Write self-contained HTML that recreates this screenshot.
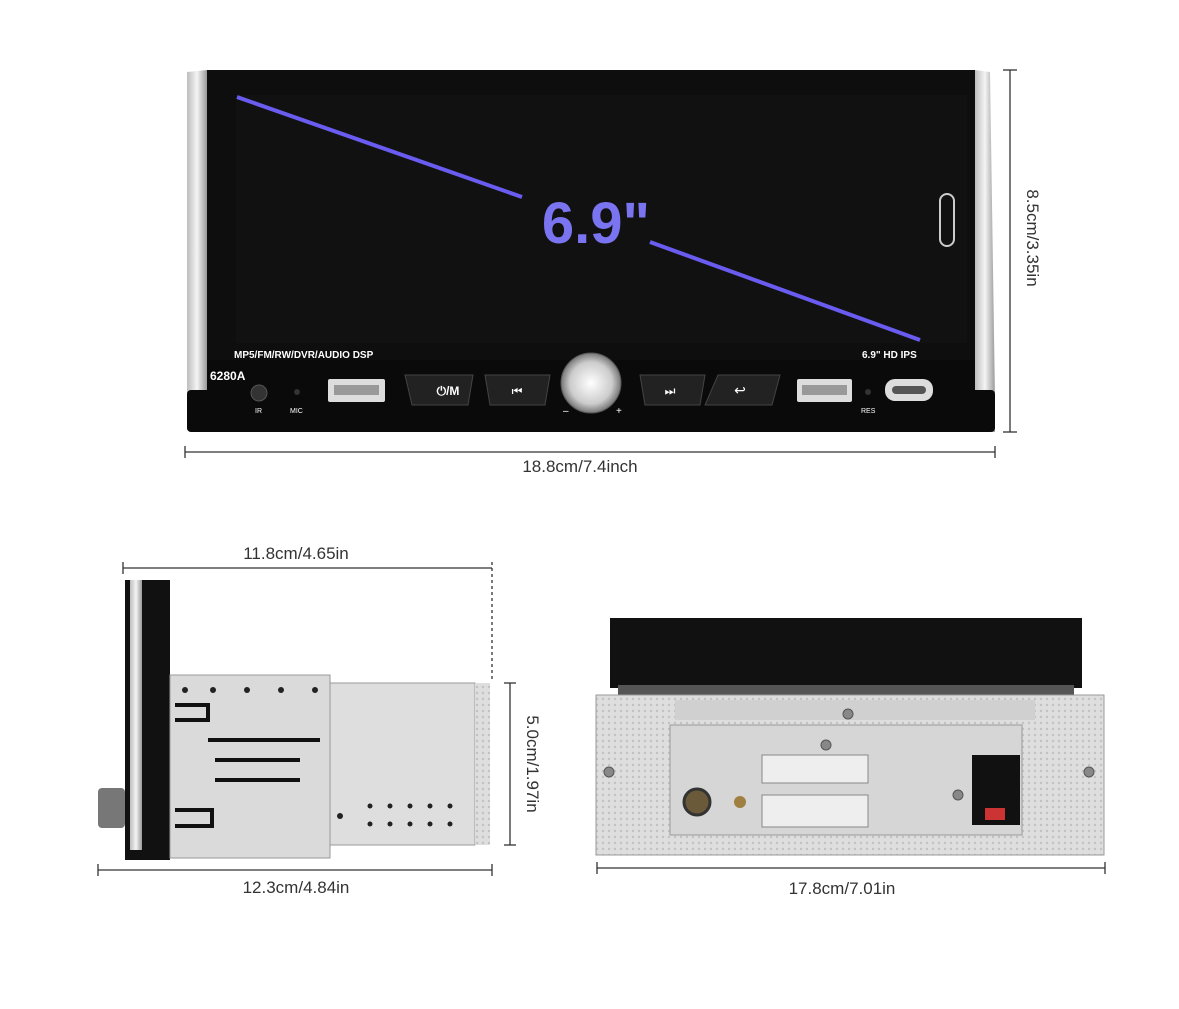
<!DOCTYPE html>
<html><head><meta charset="utf-8"><style>
html,body{margin:0;padding:0;background:#fff;}
svg{display:block;font-family:"Liberation Sans",sans-serif;}
</style></head><body>
<svg width="1179" height="1009" viewBox="0 0 1179 1009" xmlns="http://www.w3.org/2000/svg">
<defs>
<linearGradient id="sil" x1="0" y1="0" x2="1" y2="0"><stop offset="0" stop-color="#bdbdbd"/><stop offset="0.5" stop-color="#f4f4f4"/><stop offset="1" stop-color="#9a9a9a"/></linearGradient>
<radialGradient id="knob"><stop offset="0" stop-color="#fff"/><stop offset="0.7" stop-color="#ccc"/><stop offset="1" stop-color="#777"/></radialGradient>
<pattern id="dots" width="6" height="6" patternUnits="userSpaceOnUse"><rect width="6" height="6" fill="#dedede"/><circle cx="3" cy="3" r="1.2" fill="#c2c2c2"/></pattern>
</defs>
<!-- FRONT -->
<path d="M187 72 L207 70 L207 432 L187 430 Z" fill="url(#sil)"/>
<path d="M975 70 L990 72 L995 400 L995 432 L975 432 Z" fill="url(#sil)"/>
<rect x="207" y="70" width="768" height="292" fill="#0e0e0e"/>
<rect x="236" y="95" width="731" height="248" fill="#111"/>
<rect x="187" y="390" width="808" height="42" rx="4" fill="#0a0a0a"/>
<rect x="207" y="360" width="768" height="35" fill="#0a0a0a"/>
<line x1="237" y1="97" x2="522" y2="197" stroke="#6a5cf0" stroke-width="4"/>
<line x1="650" y1="242" x2="920" y2="340" stroke="#6a5cf0" stroke-width="4"/>
<text x="596" y="243" font-size="58" font-weight="bold" fill="#7a74f0" text-anchor="middle">6.9"</text>
<rect x="940" y="194" width="14" height="52" rx="7" fill="none" stroke="#ccc" stroke-width="2"/>
<text x="234" y="358" font-size="10" font-weight="bold" fill="#fff">MP5/FM/RW/DVR/AUDIO DSP</text>
<text x="862" y="358" font-size="10" font-weight="bold" fill="#fff">6.9" HD IPS</text>
<text x="210" y="380" font-size="12" font-weight="bold" fill="#fff">6280A</text>
<circle cx="259" cy="393" r="8" fill="#333" stroke="#555"/>
<text x="255" y="413" font-size="7" fill="#fff">IR</text>
<circle cx="297" cy="392" r="3" fill="#333"/>
<text x="290" y="413" font-size="7" fill="#fff">MIC</text>
<rect x="328" y="379" width="57" height="23" rx="2" fill="#ddd"/><rect x="334" y="385" width="45" height="10" fill="#999"/>
<path d="M405 375 H473 L468 405 H412 Z" fill="#222" stroke="#444"/><text x="448" y="395" font-size="12" fill="#fff" text-anchor="middle" font-weight="bold">⏻/M</text>
<path d="M485 375 H550 L545 405 H490 Z" fill="#222" stroke="#444"/><text x="517" y="395" font-size="12" fill="#fff" text-anchor="middle">⏮</text>
<circle cx="591" cy="383" r="30" fill="url(#knob)" stroke="#555"/>
<text x="563" y="414" font-size="10" fill="#fff">–</text><text x="616" y="414" font-size="10" fill="#fff">+</text>
<path d="M640 375 H705 L700 405 H645 Z" fill="#222" stroke="#444"/><text x="670" y="395" font-size="12" fill="#fff" text-anchor="middle">⏭</text>
<path d="M718 375 H780 L772 405 H705 Z" fill="#222" stroke="#444"/><text x="740" y="395" font-size="14" fill="#fff" text-anchor="middle">↩</text>
<rect x="797" y="379" width="55" height="23" rx="2" fill="#ddd"/><rect x="802" y="385" width="45" height="10" fill="#999"/>
<circle cx="868" cy="392" r="3" fill="#333"/>
<text x="861" y="413" font-size="7" fill="#fff">RES</text>
<rect x="885" y="379" width="48" height="22" rx="10" fill="#ddd"/><rect x="892" y="386" width="34" height="8" rx="4" fill="#555"/>
<!-- dims front -->
<g stroke="#333" stroke-width="1.3">
<line x1="1010" y1="70" x2="1010" y2="432"/><line x1="1003" y1="70" x2="1017" y2="70"/><line x1="1003" y1="432" x2="1017" y2="432"/>
<line x1="185" y1="452" x2="995" y2="452"/><line x1="185" y1="446" x2="185" y2="458"/><line x1="995" y1="446" x2="995" y2="458"/>
</g>
<text x="1027" y="238" font-size="17" fill="#333" text-anchor="middle" transform="rotate(90 1027 238)">8.5cm/3.35in</text>
<text x="580" y="472" font-size="17" fill="#333" text-anchor="middle">18.8cm/7.4inch</text>
<!-- SIDE -->
<rect x="125" y="580" width="45" height="280" fill="#111"/>
<rect x="130" y="580" width="12" height="270" fill="url(#sil)"/>
<rect x="98" y="788" width="27" height="40" rx="4" fill="#777"/>
<rect x="170" y="675" width="160" height="183" fill="#dadada" stroke="#999"/>
<rect x="330" y="683" width="145" height="162" fill="#dedede" stroke="#999"/>
<rect x="475" y="683" width="15" height="162" fill="url(#dots)"/>
<g fill="#222"><circle cx="185" cy="690" r="3"/><circle cx="213" cy="690" r="3"/><circle cx="247" cy="690" r="3"/><circle cx="281" cy="690" r="3"/><circle cx="315" cy="690" r="3"/></g>
<g fill="none" stroke="#111" stroke-width="4"><path d="M175 705 H208 V720 H175"/><path d="M175 810 H212 V826 H175"/><path d="M208 740 H320"/><path d="M215 760 H300"/><path d="M215 780 H300"/></g>
<g fill="#222"><circle cx="370" cy="806" r="2.5"/><circle cx="390" cy="806" r="2.5"/><circle cx="410" cy="806" r="2.5"/><circle cx="430" cy="806" r="2.5"/><circle cx="450" cy="806" r="2.5"/><circle cx="370" cy="824" r="2.5"/><circle cx="390" cy="824" r="2.5"/><circle cx="410" cy="824" r="2.5"/><circle cx="430" cy="824" r="2.5"/><circle cx="450" cy="824" r="2.5"/><circle cx="340" cy="816" r="3"/></g>
<g stroke="#333" stroke-width="1.3">
<line x1="123" y1="568" x2="492" y2="568"/><line x1="123" y1="562" x2="123" y2="574"/>
<line x1="492" y1="562" x2="492" y2="680" stroke-dasharray="3 3"/>
<line x1="510" y1="683" x2="510" y2="845"/><line x1="504" y1="683" x2="516" y2="683"/><line x1="504" y1="845" x2="516" y2="845"/>
<line x1="98" y1="870" x2="492" y2="870"/><line x1="98" y1="864" x2="98" y2="876"/><line x1="492" y1="864" x2="492" y2="876"/>
</g>
<text x="296" y="559" font-size="17" fill="#333" text-anchor="middle">11.8cm/4.65in</text>
<text x="527" y="764" font-size="17" fill="#333" text-anchor="middle" transform="rotate(90 527 764)">5.0cm/1.97in</text>
<text x="296" y="893" font-size="17" fill="#333" text-anchor="middle">12.3cm/4.84in</text>
<!-- REAR -->
<rect x="610" y="618" width="472" height="70" fill="#111"/>
<rect x="618" y="685" width="456" height="10" fill="#555"/>
<rect x="596" y="695" width="508" height="160" fill="url(#dots)" stroke="#999"/>
<rect x="670" y="725" width="352" height="110" fill="#d6d6d6" stroke="#999"/>
<rect x="675" y="700" width="360" height="20" fill="#d0d0d0"/>
<circle cx="697" cy="802" r="13" fill="#6a5a3a" stroke="#333" stroke-width="3"/>
<circle cx="740" cy="802" r="6" fill="#a08040"/>
<rect x="762" y="755" width="106" height="28" fill="#eee" stroke="#888"/>
<rect x="762" y="795" width="106" height="32" fill="#eee" stroke="#888"/>
<rect x="972" y="755" width="48" height="70" fill="#111"/>
<rect x="985" y="808" width="20" height="12" fill="#c33"/>
<g fill="#888" stroke="#555"><circle cx="609" cy="772" r="5"/><circle cx="1089" cy="772" r="5"/><circle cx="848" cy="714" r="5"/><circle cx="826" cy="745" r="5"/><circle cx="958" cy="795" r="5"/></g>
<g stroke="#333" stroke-width="1.3">
<line x1="597" y1="868" x2="1105" y2="868"/><line x1="597" y1="862" x2="597" y2="874"/><line x1="1105" y1="862" x2="1105" y2="874"/>
</g>
<text x="842" y="894" font-size="17" fill="#333" text-anchor="middle">17.8cm/7.01in</text>
</svg>
</body></html>
